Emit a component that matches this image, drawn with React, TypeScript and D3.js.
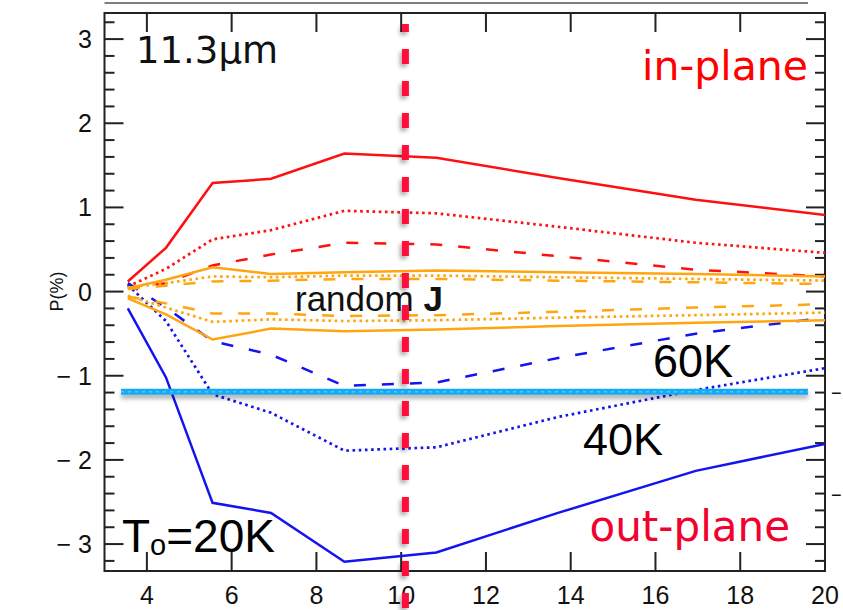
import React from "react";
import * as d3 from "d3";

// wavelength samples (x) shared by every curve
const xs = [3.55, 4.45, 5.55, 6.93, 8.66, 10.83, 13.7, 16.95, 20];

// in-plane (red)
const redSolid = [0.12, 0.52, 1.29, 1.34, 1.64, 1.59, 1.35, 1.09, 0.91];
const redDotted = [0.06, 0.27, 0.62, 0.73, 0.96, 0.93, 0.77, 0.58, 0.46];
const redDashed = [0.04, 0.1, 0.31, 0.44, 0.58, 0.56, 0.42, 0.26, 0.18];

// out-plane (blue)
const blueSolid = [-0.2, -1.02, -2.51, -2.63, -3.21, -3.1, -2.63, -2.13, -1.81];
const blueDotted = [0.08, -0.35, -1.22, -1.44, -1.89, -1.85, -1.49, -1.17, -0.91];
const blueDashed = [0.1, -0.19, -0.59, -0.75, -1.12, -1.08, -0.79, -0.5, -0.31];

// random J (orange)
const orangeSolidUp = [0.04, 0.14, 0.29, 0.21, 0.23, 0.25, 0.23, 0.21, 0.18];
const orangeDotUp = [0.05, 0.1, 0.18, 0.17, 0.19, 0.19, 0.17, 0.15, 0.13];
const orangeDashUp = [0.03, 0.07, 0.12, 0.13, 0.15, 0.15, 0.13, 0.11, 0.09];
const orangeSolidLo = [-0.08, -0.27, -0.57, -0.44, -0.47, -0.45, -0.41, -0.37, -0.34];
const orangeDotLo = [-0.05, -0.19, -0.36, -0.33, -0.35, -0.34, -0.31, -0.28, -0.25];
const orangeDashLo = [-0.06, -0.14, -0.26, -0.26, -0.29, -0.28, -0.24, -0.19, -0.15];

// guide lines
const cutX = 10.1;
const floorY = -1.19;
const floorX = [3.39, 19.6];

// ticks
const xTicks = [4, 6, 8, 10, 12, 14, 16, 18, 20];
const yTicks = [-3, -2, -1, 0, 1, 2, 3];
const yTickLabels = ["− 3", "− 2", "− 1", "0", "1", "2", "3"];
const yMinor = d3.range(-16, 17).map((d) => d / 5);

const RED = "#ff1010";
const BLUE = "#1414f0";
const ORANGE = "#ffa510";
const SOLID = "none";
const DOT = "2.6 3.6";
const DASH = "12 16";

const series = [
    { v: redSolid, c: RED, d: SOLID },
    { v: redDotted, c: RED, d: DOT },
    { v: redDashed, c: RED, d: DASH },
    { v: blueSolid, c: BLUE, d: SOLID },
    { v: blueDotted, c: BLUE, d: DOT },
    { v: blueDashed, c: BLUE, d: DASH },
    { v: orangeSolidUp, c: ORANGE, d: SOLID },
    { v: orangeDotUp, c: ORANGE, d: DOT },
    { v: orangeDashUp, c: ORANGE, d: DASH },
    { v: orangeSolidLo, c: ORANGE, d: SOLID },
    { v: orangeDotLo, c: ORANGE, d: DOT },
    { v: orangeDashLo, c: ORANGE, d: DASH },
];

const W = 843;
const H = 610;
const L = 104.5, R = 825, T = 13, B = 571;

export default function App() {
    const x = d3.scaleLinear().domain([3, 20]).range([L, R]);
    const y = d3.scaleLinear().domain([-3.32, 3.31]).range([B, T]);
    const line = d3.line<number>()
        .x((d, i) => x(xs[i]))
        .y((d) => y(d));

    const helv = "'Liberation Sans', Arial, sans-serif";
    const deja = "'DejaVu Sans', Verdana, sans-serif";

    return (
        <svg width={W} height={H} style={{ position: "absolute", left: 0, top: 0, background: "#fff" }}>
            <defs>
                {/* user-space filter regions: the guide lines have zero-size bounding boxes */}
                <filter id="shv" filterUnits="userSpaceOnUse" x={0} y={0} width={W} height={H}>
                    <feDropShadow dx="-2" dy="3" stdDeviation="2" floodColor="#000" floodOpacity="0.35" />
                </filter>
                <filter id="shh" filterUnits="userSpaceOnUse" x={0} y={0} width={W} height={H}>
                    <feDropShadow dx="0" dy="4" stdDeviation="2" floodColor="#000" floodOpacity="0.3" />
                </filter>
                <clipPath id="plot">
                    <rect x={L} y={T} width={R - L} height={B - T} />
                </clipPath>
            </defs>

            {/* top rule */}
            <line x1={L} x2={808} y1={3} y2={3} stroke="#555" strokeWidth={1.5} />

            {/* frame */}
            <rect x={L} y={T} width={R - L} height={B - T} fill="none" stroke="#222" strokeWidth={2} />

            {/* y ticks, both sides */}
            {yMinor.map((t, i) => {
                const major = Math.abs(t - Math.round(t)) < 1e-6;
                const len = major ? 19 : 10;
                return (
                    <g key={"ym" + i} stroke="#222" strokeWidth={2}>
                        <line x1={L} x2={L + len} y1={y(t)} y2={y(t)} />
                        <line x1={R} x2={R - len} y1={y(t)} y2={y(t)} />
                    </g>
                );
            })}
            {/* x ticks, top and bottom */}
            {xTicks.map((t) => (
                <g key={"xt" + t} stroke="#222" strokeWidth={2}>
                    <line x1={x(t)} x2={x(t)} y1={B} y2={B - 19} />
                    <line x1={x(t)} x2={x(t)} y1={T} y2={T + 19} />
                </g>
            ))}

            {/* tick labels */}
            {xTicks.map((t) => (
                <text key={"xl" + t} x={x(t)} y={604} textAnchor="middle" fontFamily={helv} fontSize={25} fill="#111">
                    {t}
                </text>
            ))}
            {yTicks.map((t, i) => (
                <text key={"yl" + t} x={92} y={y(t)} dy="0.36em" textAnchor="end" fontFamily={helv} fontSize={25} fill="#111">
                    {yTickLabels[i]}
                </text>
            ))}
            <text transform={`translate(63,${y(0)}) rotate(-90)`} textAnchor="middle" fontFamily={helv} fontSize={18} fill="#111">
                P(%)
            </text>

            {/* curves */}
            <g clipPath="url(#plot)">
                {series.map((s, i) => (
                    <path key={i} d={line(s.v) || ""} fill="none" stroke={s.c} strokeWidth={s.d === DOT ? 2.7 : 2.5}
                        strokeDasharray={s.d === SOLID ? undefined : s.d} />
                ))}
            </g>

            {/* labels */}
            <text x={136} y={63} fontFamily={deja} fontSize={37} fill="#111">11.3μm</text>
            <text x={808} y={80} textAnchor="end" fontFamily={deja} fontSize={41} fill="#ff0000">in-plane</text>
            <text x={790} y={541} textAnchor="end" fontFamily={deja} fontSize={42} fill="#f2002e">out-plane</text>
            <text x={295} y={311} fontFamily={helv} fontSize={35} fill="#111">
                random <tspan fontWeight="bold">J</tspan>
            </text>
            <text x={653} y={377} fontFamily={helv} fontSize={46} fill="#000" textLength={80} lengthAdjust="spacingAndGlyphs">60K</text>
            <text x={583} y={455} fontFamily={helv} fontSize={44} fill="#000" textLength={80} lengthAdjust="spacingAndGlyphs">40K</text>
            <text x={122} y={552} fontFamily={helv} fontSize={46} fill="#000">
                T<tspan fontSize={29} dy={3}>o</tspan><tspan dy={-3}>=20K</tspan>
            </text>

            {/* right-edge fragments of the neighbouring panel */}
            <text x={831} y={393} dy="0.36em" fontFamily={helv} fontSize={18} fill="#111">−</text>
            <text x={831} y={495} dy="0.36em" fontFamily={helv} fontSize={18} fill="#111">−</text>

            {/* horizontal cyan guide */}
            <line x1={x(floorX[0])} x2={x(floorX[1])} y1={y(floorY)} y2={y(floorY)}
                stroke="#14aaf5" strokeWidth={6} filter="url(#shh)" />
            <line x1={x(floorX[0])} x2={x(floorX[1])} y1={y(floorY)} y2={y(floorY)}
                stroke="#52c6ff" strokeWidth={1.5} strokeDasharray="3 4" />

            {/* vertical red dashed guide */}
            <line x1={x(cutX)} x2={x(cutX)} y1={24} y2={H}
                stroke="#ff0a3c" strokeWidth={7} strokeDasharray="15 17" strokeDashoffset={7} filter="url(#shv)" />
        </svg>
    );
}
